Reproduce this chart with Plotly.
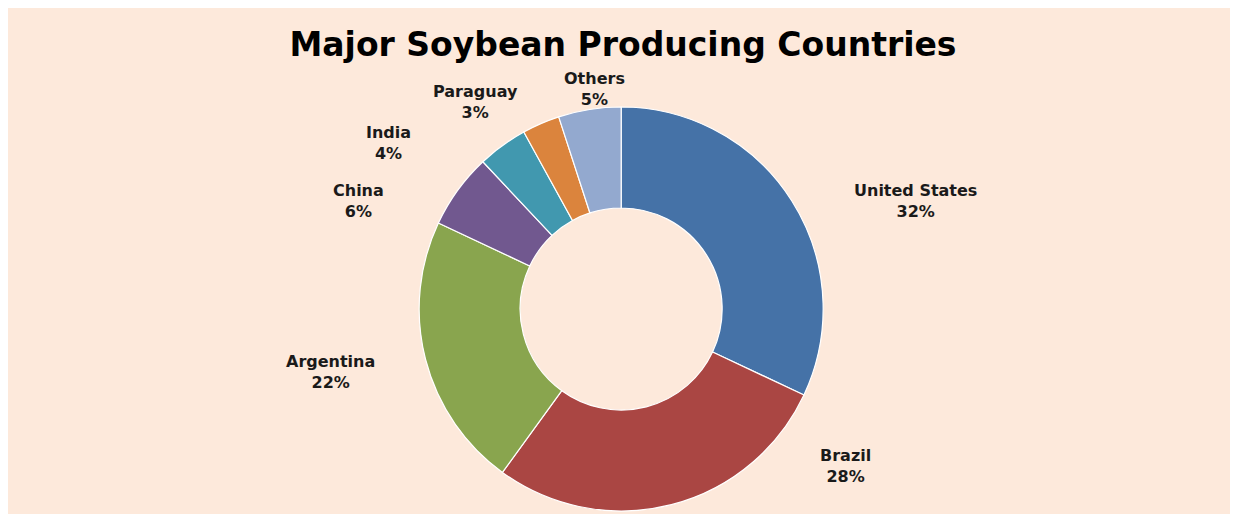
import plotly.graph_objects as go

countries = ["United States", "Brazil", "Argentina", "China", "India", "Paraguay", "Others"]
shares = [32, 28, 22, 6, 4, 3, 5]
colors = ["#4572A7", "#AA4643", "#89A54E", "#71588F", "#4198AF", "#DB843D", "#93A9CF"]

bg = "#FDE9DB"
W, H = 1230, 506  # page body adds an 8px offset

# label anchor points (page pixels) for each country, same order as countries
label_px = [(915, 201), (845, 466), (330, 372), (358, 201), (388, 143), (475, 102), (594, 89)]

total = sum(shares)

fig = go.Figure(
    go.Pie(
        labels=countries,
        values=shares,
        hole=0.5,
        sort=False,
        direction="clockwise",
        rotation=0,
        marker=dict(colors=colors, line=dict(color="white", width=1.2)),
        textinfo="none",
        hoverinfo="label+percent",
        showlegend=False,
        domain=dict(x=[0.2, 0.797], y=[1 - 503 / H, 1 - 99 / H]),
    )
)

for name, v, (px, py) in zip(countries, shares, label_px):
    fig.add_annotation(
        x=(px - 8) / W,
        y=1 - (py - 8) / H,
        xref="paper",
        yref="paper",
        xanchor="center",
        yanchor="middle",
        showarrow=False,
        text=f"<b>{name}<br>{round(v / total * 100)}%</b>",
        align="center",
        font=dict(family="DejaVu Sans", size=16, color="#1a1a1a"),
    )

fig.update_layout(
    width=W,
    height=H,
    margin=dict(l=0, r=0, t=0, b=0),
    paper_bgcolor=bg,
    title=dict(
        text="<b>Major Soybean Producing Countries</b>",
        x=(623 - 8) / W,
        xanchor="center",
        y=1 - (44 - 8) / H,
        yanchor="middle",
        font=dict(family="DejaVu Sans", size=33, color="#000000"),
    ),
)

fig.write_html("out.html")
